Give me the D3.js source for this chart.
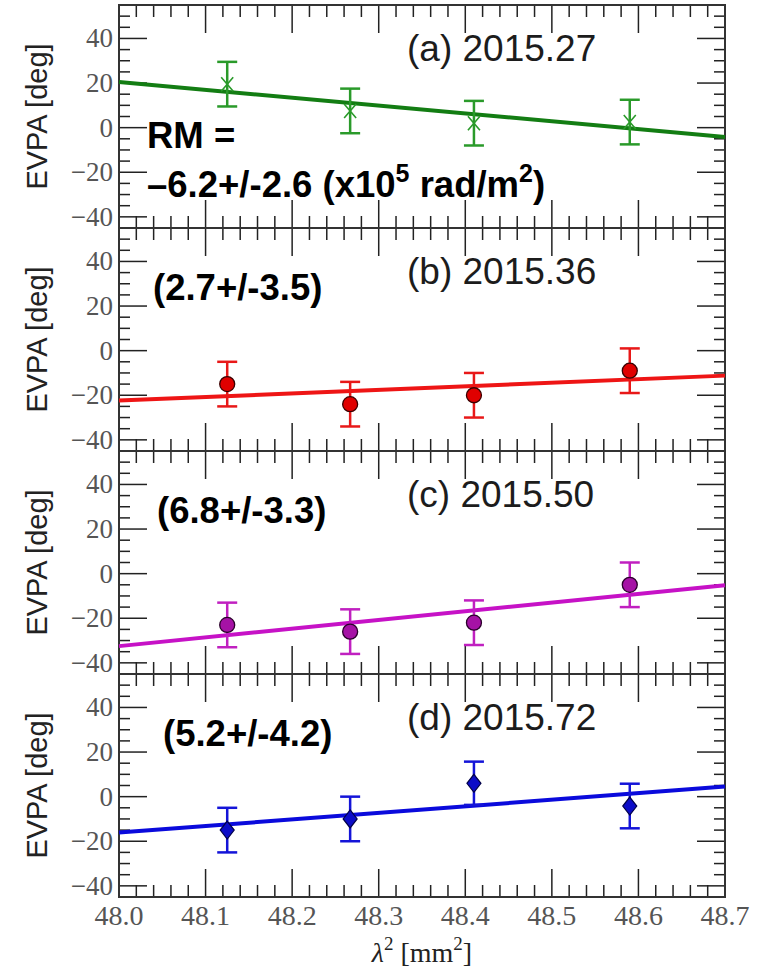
<!DOCTYPE html>
<html>
<head>
<meta charset="utf-8">
<script src="https://cdn.jsdelivr.net/npm/d3@7"></script>
<style>
  body { margin: 0; background: #fff; }
  svg { display: block; }
</style>
</head>
<body>
<svg id="chart" width="763" height="971"></svg>
<script>
// lambda^2 of the four bands [mm^2]
const lambda2 = [48.125, 48.267, 48.41, 48.59];

// EVPA per epoch [deg] and 1-sigma errors
const evpaA = [19.5, 7.5, 2, 2.5];
const evpaB = [-15, -24, -20, -9];
const evpaC = [-23, -26, -22, -5];
const evpaD = [-15, -10, 6, -4.2];
const errA = [10, 10, 10, 10];
const errB = [10, 10, 10, 10];
const errC = [10, 10, 10, 10];
const errD = [10, 10, 9.7, 10];

// fitted line, EVPA at left / right end of the x range
const fitStart = [20.5, -22.4, -32.5, -16.1];
const fitEnd = [-4.2, -11.2, -5.2, 4.5];

const panelLabels = ['(a) 2015.27', '(b) 2015.36', '(c) 2015.50', '(d) 2015.72'];
const rmLabels = [null, '(2.7+/-3.5)', '(6.8+/-3.3)', '(5.2+/-4.2)'];

const xDomain = [48.0, 48.7];
const xMajor = [48.0, 48.1, 48.2, 48.3, 48.4, 48.5, 48.6, 48.7];
const yDomain = [-45, 55];
const yMajor = [-40, -20, 0, 20, 40];

const left = 119, right = 725, top0 = 5, ph = 223;
const svg = d3.select('#chart');

const x = d3.scaleLinear().domain(xDomain).range([left, right]);
const xMinor = d3.range(48.0, 48.7001, 0.02).map(v => +v.toFixed(2));
const yMinor = d3.range(-45, 55.001, 5);

const series = [
  {evpa: evpaA, err: errA, line: '#137d13', bar: '#2a9a2a', fill: 'none', stroke: '#2a9a2a', shape: 'x'},
  {evpa: evpaB, err: errB, line: '#ee1515', bar: '#e81818', fill: '#e00000', stroke: '#3a0000', shape: 'circle'},
  {evpa: evpaC, err: errC, line: '#c612c6', bar: '#c020c0', fill: '#a512a5', stroke: '#2a002a', shape: 'circle'},
  {evpa: evpaD, err: errD, line: '#0a0adc', bar: '#1414d8', fill: '#0c0cc8', stroke: '#000048', shape: 'diamond'}
];

series.forEach((s, i) => {
  const top = top0 + i * ph;
  const y = d3.scaleLinear().domain(yDomain).range([top + ph, top]);
  const g = svg.append('g');

  // ticks on all four sides, pointing inward
  const tick = '#222';
  yMinor.forEach(v => {
    const len = yMajor.includes(v) ? 28 : 11;
    g.append('line').attr('x1', left).attr('x2', left + len).attr('y1', y(v)).attr('y2', y(v)).attr('stroke', tick).attr('stroke-width', 1.5);
    g.append('line').attr('x1', right).attr('x2', right - len).attr('y1', y(v)).attr('y2', y(v)).attr('stroke', tick).attr('stroke-width', 1.5);
  });
  xMinor.forEach(v => {
    const len = xMajor.some(m => Math.abs(m - v) < 1e-6) ? 28 : 12;
    g.append('line').attr('x1', x(v)).attr('x2', x(v)).attr('y1', top).attr('y2', top + len).attr('stroke', tick).attr('stroke-width', 1.5);
    g.append('line').attr('x1', x(v)).attr('x2', x(v)).attr('y1', top + ph).attr('y2', top + ph - len).attr('stroke', tick).attr('stroke-width', 1.5);
  });
  g.append('rect').attr('x', left).attr('y', top).attr('width', right - left).attr('height', ph)
    .attr('fill', 'none').attr('stroke', '#333').attr('stroke-width', 2);

  // y tick labels
  yMajor.forEach(v => {
    g.append('text').attr('x', 113).attr('y', y(v) + 9).attr('text-anchor', 'end')
      .style('font', '27px "Liberation Serif", serif').attr('fill', '#555')
      .text(d3.format('d')(v));
  });

  // y label
  g.append('text').attr('transform', `translate(47,${top + ph / 2}) rotate(-90)`)
    .attr('text-anchor', 'middle').style('font', '29px "Liberation Sans", Arial, sans-serif')
    .attr('fill', '#222').text('EVPA [deg]');

  // fit line
  g.append('line').attr('x1', x(xDomain[0])).attr('x2', x(xDomain[1]))
    .attr('y1', y(fitStart[i])).attr('y2', y(fitEnd[i]))
    .attr('stroke', s.line).attr('stroke-width', 4);

  // error bars
  lambda2.forEach((l, j) => {
    const cx = x(l), y1 = y(s.evpa[j] + s.err[j]), y2 = y(s.evpa[j] - s.err[j]);
    g.append('line').attr('x1', cx).attr('x2', cx).attr('y1', y1).attr('y2', y2).attr('stroke', s.bar).attr('stroke-width', 2.5);
    [y1, y2].forEach(yy => g.append('line').attr('x1', cx - 10).attr('x2', cx + 10).attr('y1', yy).attr('y2', yy).attr('stroke', s.bar).attr('stroke-width', 2.5));
  });

  // markers
  lambda2.forEach((l, j) => {
    const cx = x(l), cy = y(s.evpa[j]);
    if (s.shape === 'x') {
      g.append('path').attr('d', `M${cx - 6},${cy - 7}L${cx + 6},${cy + 7}M${cx - 6},${cy + 7}L${cx + 6},${cy - 7}`)
        .attr('stroke', s.stroke).attr('stroke-width', 1.6).attr('fill', 'none');
    } else if (s.shape === 'circle') {
      g.append('circle').attr('cx', cx).attr('cy', cy).attr('r', 7.5)
        .attr('fill', s.fill).attr('stroke', s.stroke).attr('stroke-width', 1.3);
    } else {
      g.append('path').attr('d', `M${cx},${cy - 9}L${cx + 7},${cy}L${cx},${cy + 9}L${cx - 7},${cy}Z`)
        .attr('fill', s.fill).attr('stroke', s.stroke).attr('stroke-width', 1.2);
    }
  });

  // panel label
  g.append('text').attr('x', 407).attr('y', top + 56)
    .style('font', '37px "Liberation Sans", Arial, sans-serif').attr('fill', '#1c1c1c')
    .text(panelLabels[i]);

  if (rmLabels[i]) {
    const rx = [0, 153, 157, 163][i];
    g.append('text').attr('x', rx).attr('y', top + 72)
      .style('font', 'bold 36.5px "Liberation Sans", Arial, sans-serif').attr('fill', '#000')
      .text(rmLabels[i]);
  }
});

// RM annotation of panel (a)
const rmFont = 'bold 36.5px "Liberation Sans", Arial, sans-serif';
svg.append('text').attr('x', 147).attr('y', 148).style('font', rmFont).text('RM =');
const t2 = svg.append('text').attr('x', 147).attr('y', 197).style('font', rmFont);
t2.append('tspan').text('\u20136.2+/-2.6 (x10');
t2.append('tspan').attr('dy', -15).style('font-size', '25px').text('5');
t2.append('tspan').attr('dy', 15).text(' rad/m');
t2.append('tspan').attr('dy', -15).style('font-size', '25px').text('2');
t2.append('tspan').attr('dy', 15).text(')');

// x axis tick labels and title
xMajor.forEach(v => {
  svg.append('text').attr('x', x(v)).attr('y', 925).attr('text-anchor', 'middle')
    .style('font', '28px "Liberation Serif", serif').attr('fill', '#555')
    .text(v.toFixed(1));
});
const xt = svg.append('text').attr('x', (left + right) / 2).attr('y', 962).attr('text-anchor', 'middle')
  .style('font', '28px "Liberation Serif", serif').attr('fill', '#222');
xt.append('tspan').style('font-style', 'italic').text('\u03bb');
xt.append('tspan').attr('dy', -12).style('font-size', '19px').text('2');
xt.append('tspan').attr('dy', 12).text(' [mm');
xt.append('tspan').attr('dy', -12).style('font-size', '19px').text('2');
xt.append('tspan').attr('dy', 12).text(']');
</script>
</body>
</html>
